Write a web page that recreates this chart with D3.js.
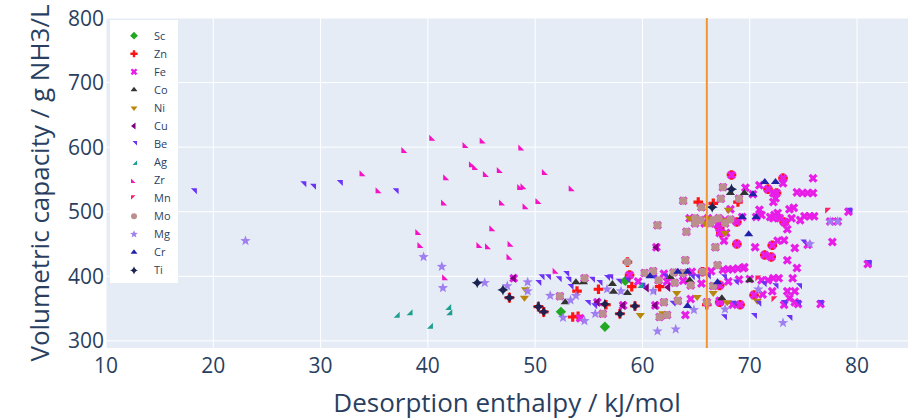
<!DOCTYPE html>
<html>
<head>
<meta charset="utf-8">
<script src="https://cdn.jsdelivr.net/npm/d3@7"></script>
<style>
  body { margin: 0; background: #fff; }
  text { font-family: "Open Sans", "Noto Sans", sans-serif; fill: #2a3f5f; }
</style>
</head>
<body>
<div id="chart"></div>
<script>
// Chart size, matches the screenshot
const width = 913;
const height = 419;
const margin = {top: 18, right: 5, bottom: 71, left: 106};

// Legend order (also plotting order)
const metals = ["Sc", "Zn", "Fe", "Co", "Ni", "Cu", "Be", "Ag", "Zr", "Mn", "Mo", "Mg", "Cr", "Ti"];

// Tick labels
const xTicks = [10, 20, 30, 40, 50, 60, 70, 80];
const yTicks = [300, 400, 500, 600, 700, 800];

// Threshold line (kJ/mol)
const cutoff = [66];

// Points per metal: [desorption enthalpy, volumetric capacity]
const scPts = [[52.4, 345], [56.5, 322], [58.4, 393]];
const znPts = [[47.6, 367], [50.3, 353], [50.8, 345], [53.9, 377], [55.9, 380], [53.5, 337], [58.6, 422], [58.8, 402],
  [59.0, 384], [61.6, 384], [66.0, 356], [65.2, 515], [66.6, 513], [68.9, 515], [73.1, 552], [72.5, 529], [68.3, 557],
  [67.2, 475], [68.8, 484], [68.8, 450], [72.1, 448], [71.4, 433], [72.0, 430], [70.4, 371], [69.1, 356], [67.2, 360],
  [67.2, 386], [71.7, 535], [73.2, 484], [67.3, 467], [65.6, 407], [56.6, 356], [57.9, 342], [59.3, 354], [54.0, 338]];
const fePts = [[75.9, 552], [73.1, 552], [73.1, 544], [70.9, 541], [69.6, 537], [68.3, 557], [71.7, 535],
  [74.4, 530], [74.9, 529], [75.4, 529], [75.9, 529], [72.2, 529], [72.4, 521], [72.2, 515], [72.5, 529],
  [74.1, 506], [73.7, 504], [70.9, 503], [71.1, 495], [71.9, 492], [72.3, 495], [72.6, 498], [72.2, 490], [72.8, 490],
  [73.3, 484], [73.5, 473], [73.9, 490], [73.2, 484], [74.7, 487], [75.1, 493], [75.6, 493], [76.0, 493],
  [72.6, 455], [73.2, 456], [74.2, 444], [70.5, 445], [73.5, 425], [74.4, 413], [77.7, 453], [75.4, 449],
  [77.5, 485], [78.2, 485], [67.6, 455], [67.5, 410], [68.0, 411], [68.4, 411], [68.9, 412], [69.5, 414],
  [68.8, 484], [67.2, 475], [67.2, 467], [67.8, 467], [68.8, 450], [72.1, 448], [71.4, 433], [72.0, 430],
  [69.0, 520], [67.5, 538], [63.8, 517], [67.3, 520], [68.2, 504], [65.5, 507],
  [64.4, 490], [64.9, 490], [65.4, 487], [66.1, 490], [66.6, 487], [67.1, 490], [67.7, 487], [68.2, 488],
  [64.9, 482], [65.8, 482], [66.3, 482], [67.0, 480], [67.7, 482], [61.4, 479], [64.1, 469], [66.8, 445],
  [61.3, 445], [69.3, 492], [70.6, 492], [70.3, 527], [69.4, 413], [81.0, 419], [79.2, 500],
  [74.0, 397], [72.2, 397], [72.7, 397], [71.7, 394], [71.1, 394], [73.5, 377], [74.2, 377], [72.1, 377],
  [71.2, 372], [73.7, 366], [74.2, 360], [74.5, 357], [73.2, 356], [76.6, 357], [70.4, 371], [69.1, 356],
  [67.2, 360], [67.2, 386], [60.2, 405], [61.0, 408], [62.0, 404], [62.9, 406], [63.8, 405], [64.6, 407],
  [65.6, 407], [66.4, 408], [64.0, 425], [67.0, 417], [61.5, 394], [62.3, 392], [63.0, 390], [63.8, 393],
  [64.5, 386], [65.5, 389], [66.6, 385], [68.0, 392], [69.0, 395], [70.0, 396], [62.0, 360], [63.3, 362],
  [64.5, 365], [66.0, 360], [67.2, 362], [68.4, 356], [61.6, 337], [62.3, 340], [64.0, 340],
  [55.8, 360], [54.6, 397], [52.3, 369], [56.3, 342], [58.2, 355], [61.2, 355], [48.0, 397], [54.2, 335],
  [58.8, 402], [59.6, 392]];
const coPts = [[53.8, 391], [54.5, 391], [57.2, 388], [57.3, 376], [52.8, 360], [58.6, 374], [62.6, 399], [64.4, 394],
  [67.4, 366], [70.0, 394], [68.2, 529], [69.5, 529]];
const niPts = [[49.1, 380], [49.0, 367], [64.4, 490], [64.9, 490], [66.1, 490], [67.7, 487], [68.0, 503], [67.7, 467],
  [59.8, 340], [61.9, 343], [63.2, 374], [65.1, 368], [66.6, 374], [67.9, 360], [70.7, 362], [65.8, 482]];
const cuPts = [[48.0, 397], [55.8, 360], [61.3, 445], [58.2, 355], [61.2, 355], [62.4, 383], [60.4, 382]];
const bePts = [[18.1, 530], [28.3, 541], [29.2, 537], [31.7, 543], [36.9, 530],
  [50.5, 397], [51.1, 397], [50.2, 388], [52.1, 394], [52.8, 402], [53.0, 393], [53.2, 382], [55.2, 393], [55.9, 388],
  [56.6, 396], [56.9, 397], [57.7, 390], [59.9, 384], [54.8, 357], [55.4, 352], [60.9, 374], [62.7, 356], [65.0, 397],
  [66.0, 398], [67.5, 397], [68.6, 389], [71.2, 386], [72.3, 383], [74.5, 383], [67.5, 335], [70.3, 337], [73.6, 334],
  [73.1, 357], [74.4, 357], [76.5, 357], [70.7, 356], [68.4, 356], [74.9, 451], [79.2, 500], [81.0, 419], [58.5, 392],
  [61.0, 396], [62.0, 398], [63.5, 400], [64.5, 397]];
const agPts = [[37.0, 342], [38.2, 346], [40.1, 325], [41.8, 354], [41.9, 346], [59.7, 388]];
const zrPts = [[40.5, 616], [37.9, 597], [43.6, 605], [45.2, 612], [48.8, 601], [34.0, 561], [35.5, 535], [41.8, 555],
  [44.2, 575], [44.5, 571], [45.5, 560], [46.8, 566], [51.0, 563], [48.7, 540], [49.0, 541], [53.5, 538], [41.6, 516],
  [47.0, 516], [49.2, 510], [50.4, 518], [39.2, 470], [39.4, 450], [46.1, 476], [44.9, 450], [45.7, 448], [47.8, 452],
  [47.7, 432], [52.0, 410], [41.7, 400]];
const mnPts = [[77.4, 500], [72.4, 363], [70.9, 395]];
const moPts = [[54.6, 397], [52.3, 369], [56.3, 342], [58.6, 422], [61.4, 479], [64.1, 469], [63.8, 517], [67.3, 520],
  [67.5, 538], [69.0, 520], [65.5, 507], [66.8, 445], [64.0, 425], [67.0, 417], [64.9, 490], [65.4, 487], [66.6, 487],
  [67.1, 490], [64.9, 482], [66.3, 482], [67.7, 482], [68.2, 488], [60.2, 405], [61.0, 408], [62.9, 406], [63.8, 405],
  [65.6, 407], [61.5, 394], [63.0, 390], [64.5, 386], [66.6, 385], [62.0, 360], [63.3, 362], [66.0, 360], [61.6, 337],
  [62.3, 340]];
const mgPts = [[23.0, 455], [39.6, 430], [41.3, 415], [41.4, 382], [45.3, 390], [47.4, 385], [49.3, 391], [49.3, 377],
  [53.3, 363], [52.6, 336], [54.6, 331], [55.6, 342], [56.7, 380], [61.0, 377], [61.4, 315], [63.1, 318], [64.8, 348],
  [67.7, 349], [73.1, 328], [70.8, 380], [75.6, 450], [77.5, 485], [78.2, 485], [51.4, 370], [58.0, 377], [53.8, 370]];
const crPts = [[71.4, 546], [72.4, 546], [70.3, 527], [69.3, 492], [70.6, 492], [69.9, 465], [64.2, 354], [60.7, 400],
  [63.3, 407], [64.2, 407], [67.0, 391]];
const tiPts = [[44.6, 390], [47.0, 379], [68.3, 535], [66.5, 507], [56.5, 357], [57.9, 342], [59.3, 354], [47.6, 367],
  [50.3, 353], [50.8, 345]];

const seriesPts = [scPts, znPts, fePts, coPts, niPts, cuPts, bePts, agPts, zrPts, mnPts, moPts, mgPts, crPts, tiPts];

// Marker look for each metal, same order as metals
const colors = ["#22a822", "#ff1414", "#e81ee8", "#333333", "#b8860b", "#800080", "#6a33f5",
  "#1f9f8f", "#f512c4", "#ff1f66", "#bc8f8f", "#a07ff0", "#2222a8", "#1b2350"];
const symbols = ["diamond", "cross", "x", "triangle-up", "triangle-down", "triangle-left", "triangle-ne",
  "triangle-se", "triangle-sw", "triangle-nw", "circle", "star", "triangle-up", "star-diamond"];

// marker paths, r = half of marker size
function symbolPath(name, r) {
  const f = v => +v.toFixed(2);
  if (name === "circle") {
    return `M${f(r)},0A${f(r)},${f(r)} 0 1,1 0,${f(-r)}A${f(r)},${f(r)} 0 0,1 ${f(r)},0Z`;
  }
  if (name === "diamond") {
    const rd = f(r * 1.3);
    return `M${rd},0L0,${rd}L${-rd},0L0,${-rd}Z`;
  }
  if (name === "cross") {
    const a = f(r * 0.4), b = f(r * 1.2);
    return `M${b},${a}H${a}V${b}H${-a}V${a}H${-b}V${-a}H${-a}V${-b}H${a}V${-a}H${b}Z`;
  }
  if (name === "x") {
    const rx = f(r * 0.8 / Math.SQRT2);
    const ne = `l${rx},${rx}`, se = `l${rx},${-rx}`, sw = `l${-rx},${-rx}`, nw = `l${-rx},${rx}`;
    return `M0,${rx}` + ne + se + sw + se + sw + nw + sw + nw + ne + nw + ne + "Z";
  }
  if (name === "triangle-up" || name === "triangle-down" || name === "triangle-left") {
    const rt = f(r * 2 / Math.sqrt(3)), r2 = f(r / 2);
    if (name === "triangle-up") return `M${-rt},${r2}H${rt}L0,${f(-r)}Z`;
    if (name === "triangle-down") return `M${-rt},${-r2}H${rt}L0,${f(r)}Z`;
    return `M${r2},${-rt}V${rt}L${f(-r)},0Z`;
  }
  // corner triangles look a lot smaller in the reference
  const r1 = f(r * 1.0), r2 = f(r * 0.5);
  if (name === "triangle-ne") return `M${-r2},${-r1}H${r1}V${r2}Z`;
  if (name === "triangle-se") return `M${r1},${-r2}V${r1}H${-r2}Z`;
  if (name === "triangle-sw") return `M${r2},${r1}H${-r1}V${-r2}Z`;
  if (name === "triangle-nw") return `M${-r1},${r2}V${-r1}H${r2}Z`;
  if (name === "star") {
    // five pointed star
    const outer = r * 1.35, inner = outer * 0.42;
    const p = d3.range(10).map(i => {
      const a = -Math.PI / 2 + i * Math.PI / 5;
      const rr = i % 2 ? inner : outer;
      return [f(rr * Math.cos(a)), f(rr * Math.sin(a))];
    });
    return "M" + p.map(q => q.join(",")).join("L") + "Z";
  }
  if (name === "star-diamond") {
    const rc = f(r * 1.4), rc2 = f(r * 1.9);
    const arc = `A ${rc2},${rc2} 0 0 1 `;
    return `M${-rc},0` + arc + `0,${rc}` + arc + `${rc},0` + arc + `0,${-rc}` + arc + `${-rc},0Z`;
  }
  return "";
}

const svg = d3.select("#chart")
  .append("svg")
  .attr("width", width)
  .attr("height", height);

const x = d3.scaleLinear()
  .domain([10, 84.75])
  .range([margin.left, width - margin.right]);

const y = d3.scaleLinear()
  .domain([289, 800])
  .range([height - margin.bottom, margin.top]);

// plot background
svg.append("rect")
  .attr("x", margin.left)
  .attr("y", margin.top)
  .attr("width", width - margin.left - margin.right)
  .attr("height", height - margin.top - margin.bottom)
  .attr("fill", "#e5ecf6");

// grid lines
svg.append("g")
  .selectAll("line")
  .data(xTicks)
  .join("line")
  .attr("x1", d => x(d)).attr("x2", d => x(d))
  .attr("y1", margin.top).attr("y2", height - margin.bottom)
  .attr("stroke", "#fff").attr("stroke-width", 1);

svg.append("g")
  .selectAll("line")
  .data(yTicks)
  .join("line")
  .attr("x1", margin.left).attr("x2", width - margin.right)
  .attr("y1", d => y(d)).attr("y2", d => y(d))
  .attr("stroke", "#fff").attr("stroke-width", 1);

// tick labels
svg.append("g")
  .selectAll("text")
  .data(xTicks)
  .join("text")
  .attr("x", d => x(d))
  .attr("y", 373)
  .attr("text-anchor", "middle")
  .style("font-size", "21px")
  .text(d => d);

svg.append("g")
  .selectAll("text")
  .data(yTicks)
  .join("text")
  .attr("x", margin.left - 2)
  .attr("y", d => y(d))
  .attr("dy", "0.36em")
  .attr("text-anchor", "end")
  .style("font-size", "21px")
  .text(d => d);

// axis titles
svg.append("text")
  .attr("x", (margin.left + width - margin.right) / 2)
  .attr("y", 412)
  .attr("text-anchor", "middle")
  .style("font-size", "26px")
  .text("Desorption enthalpy / kJ/mol");

svg.append("text")
  .attr("transform", `translate(49, ${(margin.top + height - margin.bottom) / 2}) rotate(-90)`)
  .attr("text-anchor", "middle")
  .style("font-size", "26px")
  .text("Volumetric capacity / g NH3/L");

// markers, one group per metal in legend order
const plot = svg.append("g");
metals.forEach((m, i) => {
  plot.append("g")
    .attr("class", "metal-" + m)
    .selectAll("path")
    .data(seriesPts[i])
    .join("path")
    .attr("transform", d => `translate(${x(d[0])},${y(d[1])})`)
    .attr("d", symbolPath(symbols[i], 4))
    .attr("fill", colors[i]);
});

// vertical cutoff line
svg.append("g")
  .selectAll("line")
  .data(cutoff)
  .join("line")
  .attr("x1", d => x(d)).attr("x2", d => x(d))
  .attr("y1", margin.top).attr("y2", height - margin.bottom)
  .attr("stroke", "#f0952f")
  .attr("stroke-width", 2);

// legend box
const legend = svg.append("g");
legend.append("rect")
  .attr("x", 110).attr("y", 20)
  .attr("width", 68).attr("height", 263)
  .attr("fill", "#fff");

const items = legend.selectAll("g.item")
  .data(metals)
  .join("g")
  .attr("class", "item")
  .attr("transform", (d, i) => `translate(134, ${35.7 + i * 18.05})`);

items.append("path")
  .attr("d", (d, i) => symbolPath(symbols[i], 3))
  .attr("fill", (d, i) => colors[i]);

items.append("text")
  .attr("x", 20)
  .attr("dy", "0.36em")
  .style("font-size", "11px")
  .text(d => d);
</script>
</body>
</html>
